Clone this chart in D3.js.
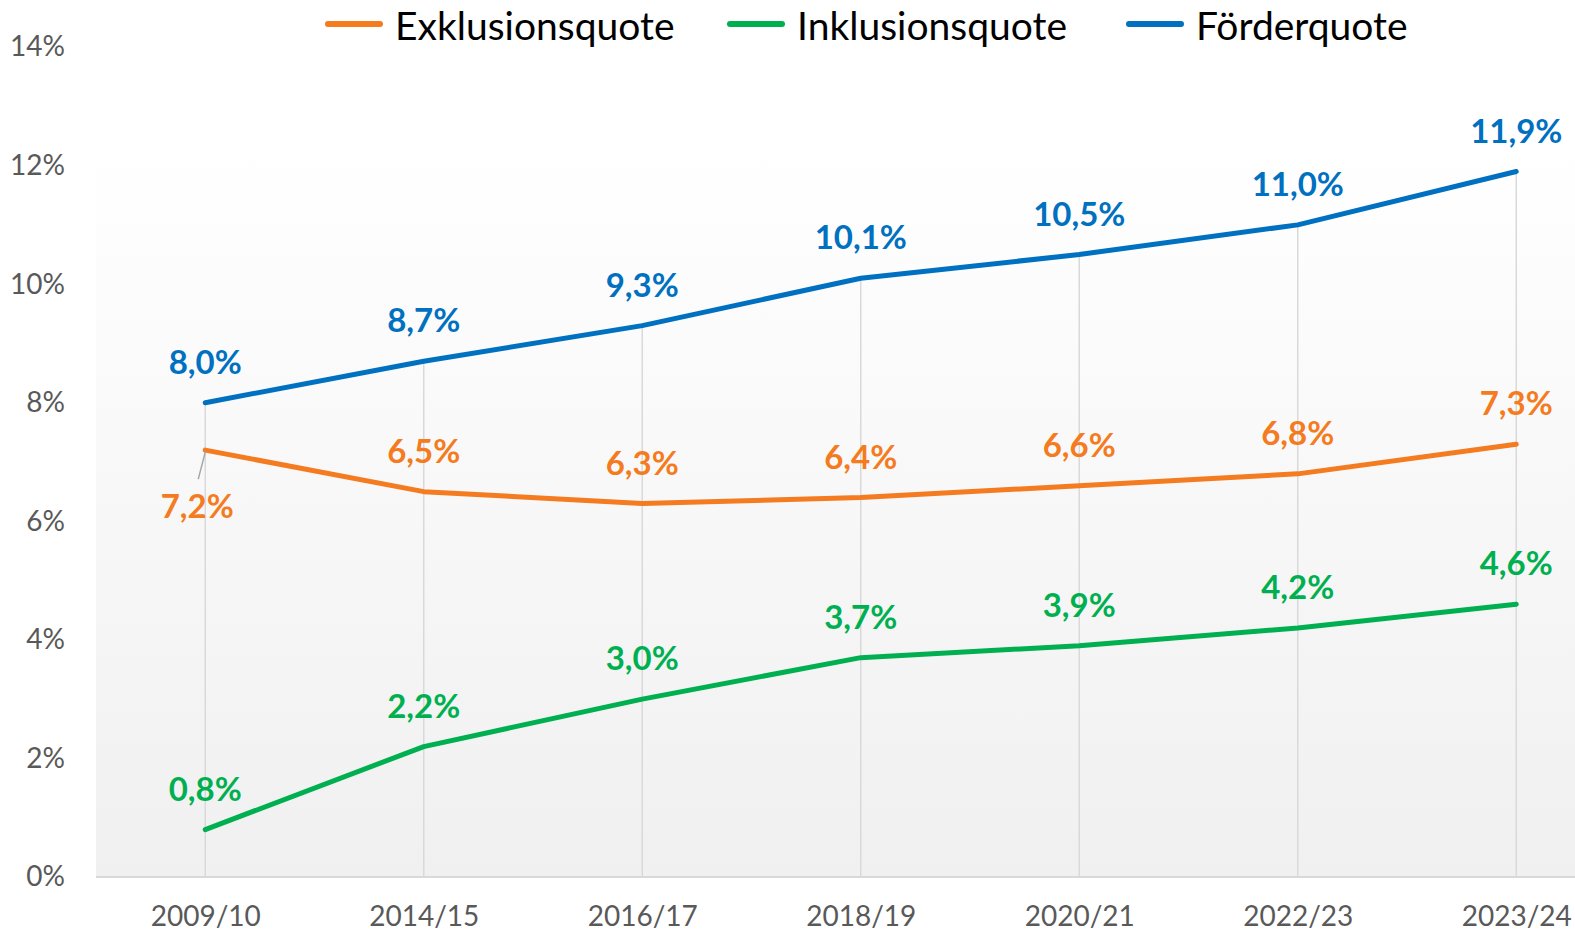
<!DOCTYPE html>
<html>
<head>
<meta charset="utf-8">
<script src="https://cdn.jsdelivr.net/npm/d3@7"></script>
<style>
  body { margin: 0; background: #fff; }
  text { font-family: Lato, "Open Sans", sans-serif; }
</style>
</head>
<body>
<div id="chart"></div>
<script>
// chart data
var years = ["2009/10", "2014/15", "2016/17", "2018/19", "2020/21", "2022/23", "2023/24"];
var exklusion = [7.2, 6.5, 6.3, 6.4, 6.6, 6.8, 7.3];
var inklusion = [0.8, 2.2, 3.0, 3.7, 3.9, 4.2, 4.6];
var foerder = [8.0, 8.7, 9.3, 10.1, 10.5, 11.0, 11.9];
var yTicks = [0, 2, 4, 6, 8, 10, 12, 14];

var series = [
  {name: "Exklusionsquote", values: exklusion, color: "#F47B20"},
  {name: "Inklusionsquote", values: inklusion, color: "#00B050"},
  {name: "Förderquote", values: foerder, color: "#0070C0"}
];

var width = 1575, height = 933;
var plotLeft = 96, plotBottom = 877, bgTop = 143;
var band = 218.5;

var svg = d3.select("#chart")
    .append("svg")
    .attr("width", width)
    .attr("height", height);

// x: one band per school year, plot runs off the right edge like the original
var x = d3.scalePoint()
    .domain(years)
    .range([plotLeft + band / 2, plotLeft + band * (years.length - 0.5)]);

var y = d3.scaleLinear()
    .domain([0, 14])
    .range([plotBottom, 47]);

// background gradient
var grad = svg.append("defs").append("linearGradient")
    .attr("id", "bg")
    .attr("x1", 0).attr("y1", 0).attr("x2", 0).attr("y2", 1);
grad.append("stop").attr("offset", "0%").attr("stop-color", "#ffffff");
grad.append("stop").attr("offset", "100%").attr("stop-color", "#f0f0f0");

svg.append("rect")
    .attr("x", plotLeft)
    .attr("y", bgTop)
    .attr("width", width - plotLeft)
    .attr("height", plotBottom - bgTop)
    .style("fill", "url(#bg)");

// y axis labels (no line)
svg.append("g")
    .attr("transform", "translate(65,0)")
    .call(d3.axisLeft(y).tickValues(yTicks).tickSize(0).tickPadding(0)
        .tickFormat(function(d){ return d + "%"; }))
    .call(function(g){ g.select(".domain").remove(); })
    .selectAll("text")
    .attr("fill", "#595959")
    .style("font-size", "28px")
    .style("font-family", "Lato, sans-serif");

// drop lines from the highest point down to the axis
svg.append("g").selectAll("line")
    .data(years)
    .enter()
    .append("line")
    .attr("x1", function(d){ return x(d); })
    .attr("x2", function(d){ return x(d); })
    .attr("y1", function(d, i){ return y(d3.max(series, function(s){ return s.values[i]; })); })
    .attr("y2", plotBottom)
    .attr("stroke", "#d9d9d9")
    .attr("stroke-width", 1.5);

// x axis
var xAxis = svg.append("g")
    .attr("transform", "translate(0," + plotBottom + ")")
    .call(d3.axisBottom(x).tickSize(0).tickPadding(29));
xAxis.select(".domain").remove();
xAxis.selectAll("text")
    .attr("fill", "#595959")
    .attr("dy", "0.71em")
    .style("font-size", "28px")
    .style("font-family", "Lato, sans-serif");
svg.append("line")
    .attr("x1", plotLeft).attr("x2", width)
    .attr("y1", plotBottom).attr("y2", plotBottom)
    .attr("stroke", "#d9d9d9")
    .attr("stroke-width", 2);

var line = d3.line()
    .x(function(d, i){ return x(years[i]); })
    .y(function(d){ return y(d); });

series.forEach(function(s){
    svg.append("path")
        .datum(s.values)
        .attr("d", line)
        .attr("fill", "none")
        .attr("stroke", s.color)
        .attr("stroke-width", 5)
        .attr("stroke-linecap", "round")
        .attr("stroke-linejoin", "round");
});

// leader line for the first Exklusionsquote label (sits below the point)
svg.append("line")
    .attr("x1", x(years[0])).attr("y1", y(exklusion[0]) + 2)
    .attr("x2", x(years[0]) - 7).attr("y2", y(exklusion[0]) + 29)
    .attr("stroke", "#a6a6a6")
    .attr("stroke-width", 1.5);

// data labels
series.forEach(function(s){
    svg.append("g").selectAll("text")
        .data(s.values)
        .enter()
        .append("text")
        .attr("x", function(d, i){
            if (s.name == "Exklusionsquote" && i == 0) return x(years[i]) - 8;
            return x(years[i]);
        })
        .attr("y", function(d, i){
            if (s.name == "Exklusionsquote" && i == 0) return y(d) + 68;
            return y(d) - 29;
        })
        .attr("text-anchor", "middle")
        .attr("fill", s.color)
        .style("font-size", "33px")
        .style("font-weight", "bold")
        .text(function(d){ return d.toFixed(1).replace(".", ",") + "%"; });
});

// legend
var legendX = [326, 728, 1127];
var legend = svg.append("g").selectAll("g")
    .data(series)
    .enter()
    .append("g")
    .attr("transform", function(d, i){ return "translate(" + legendX[i] + ",24)"; });
legend.append("line")
    .attr("x1", 2).attr("x2", 54)
    .attr("stroke", function(d){ return d.color; })
    .attr("stroke-width", 6)
    .attr("stroke-linecap", "round");
legend.append("text")
    .attr("x", 69)
    .attr("dy", "0.4em")
    .attr("fill", "#000")
    .style("font-size", "39px")
    .text(function(d){ return d.name; });
</script>
</body>
</html>
